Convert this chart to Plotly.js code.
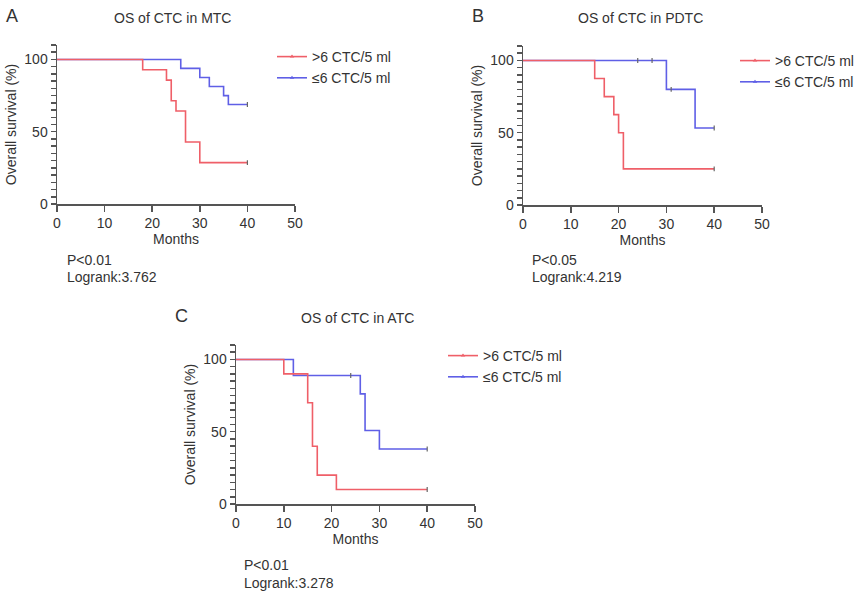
<!DOCTYPE html>
<html>
<head>
<meta charset="utf-8">
<script src="https://cdn.plot.ly/plotly-3.0.1.min.js"></script>
<style>
  html, body { margin: 0; padding: 0; background: #fff; }
  #chart { width: 860px; height: 595px; }
</style>
</head>
<body>
<div id="chart"></div>
<script>
// Kaplan-Meier steps (months, % surviving)
var groupNames = ['>6 CTC/5 ml', '\u22646 CTC/5 ml'];

// A: MTC
var mtcHighT = [0, 18, 23, 24, 25, 27, 30, 40];
var mtcHighS = [100, 92.9, 85.7, 71.4, 64.3, 42.9, 28.6, 28.6];
var mtcLowT = [0, 26, 30, 32, 35, 36, 40];
var mtcLowS = [100, 93.8, 87.5, 81.3, 75, 68.8, 68.8];
var mtcHighCensT = [40], mtcHighCensS = [28.6];
var mtcLowCensT = [40], mtcLowCensS = [68.8];

// B: PDTC
var pdtcHighT = [0, 15, 17, 19, 20, 21, 40];
var pdtcHighS = [100, 87.5, 75, 62.5, 50, 25, 25];
var pdtcLowT = [0, 30, 36, 40];
var pdtcLowS = [100, 80, 53.3, 53.3];
var pdtcHighCensT = [40], pdtcHighCensS = [25];
var pdtcLowCensT = [24, 27, 31, 40], pdtcLowCensS = [100, 100, 80, 53.3];

// C: ATC
var atcHighT = [0, 10, 15, 16, 17, 21, 40];
var atcHighS = [100, 90, 70, 40, 20, 10, 10];
var atcLowT = [0, 12, 26, 27, 30, 40];
var atcLowS = [100, 88.9, 76.2, 50.8, 38.1, 38.1];
var atcHighCensT = [40], atcHighCensS = [10];
var atcLowCensT = [24, 40], atcLowCensS = [88.9, 38.1];

// y axis: labelled ticks and the short ticks in between
var yMajorTicks = [0, 50, 100];
var yMinorTicks = [];
for (var v = 0; v <= 110; v += 5) yMinorTicks.push(v);

var panelLetters = ['A', 'B', 'C'];
var panelTitles = ['OS of CTC in MTC', 'OS of CTC in PDTC', 'OS of CTC in ATC'];
var pValues = ['P<0.01', 'P<0.05', 'P<0.01'];
var logranks = ['Logrank:3.762', 'Logrank:4.219', 'Logrank:3.278'];

var RED = '#ef5f68';
var BLUE = '#5f5fe6';
var AXIS = '#555555';
var TEXT = '#333333';
var FONT = 'Liberation Sans, Arial, sans-serif';

var panels = [
  {hiT: mtcHighT, hiS: mtcHighS, loT: mtcLowT, loS: mtcLowS,
   hcT: mtcHighCensT, hcS: mtcHighCensS, lcT: mtcLowCensT, lcS: mtcLowCensS},
  {hiT: pdtcHighT, hiS: pdtcHighS, loT: pdtcLowT, loS: pdtcLowS,
   hcT: pdtcHighCensT, hcS: pdtcHighCensS, lcT: pdtcLowCensT, lcS: pdtcLowCensS},
  {hiT: atcHighT, hiS: atcHighS, loT: atcLowT, loS: atcLowS,
   hcT: atcHighCensT, hcS: atcHighCensS, lcT: atcLowCensT, lcS: atcLowCensS}
];

// plot areas in pixels: [left, right, top(110%), bottom(0%)]
var boxes = [
  [57, 295, 45, 204],
  [523, 762, 46, 205],
  [236, 475, 345, 504]
];
// legend anchors in pixels (left, top)
var legendPos = [[272, 41], [735, 45], [443, 340]];
// letter, title, stats positions in pixels
var letterPos = [[12, 16], [478, 16], [181, 316]];
var titlePos = [[172, 18], [640, 18], [357, 318]];
var statPos = [[65, 260, 277], [530, 260, 277], [242, 565, 583]];

var W = 860, H = 595;
var data = [];
var layout = {
  width: W, height: H,
  margin: {l: 0, r: 0, t: 0, b: 0},
  paper_bgcolor: '#fff', plot_bgcolor: '#fff',
  font: {family: FONT, size: 14, color: TEXT},
  showlegend: true,
  annotations: []
};

function kmTrace(t, s, color, ax) {
  return {
    x: t, y: s, type: 'scatter', mode: 'lines',
    line: {color: color, width: 1.6, shape: 'hv'},
    xaxis: 'x' + ax, yaxis: 'y' + ax,
    showlegend: false, hoverinfo: 'skip'
  };
}

function censTrace(t, s, ax) {
  return {
    x: t, y: s, type: 'scatter', mode: 'markers',
    marker: {symbol: 'line-ns', size: 3.5, line: {color: '#666', width: 1.2}},
    xaxis: 'x' + ax, yaxis: 'y' + ax,
    showlegend: false, hoverinfo: 'skip'
  };
}

function legendTrace(name, color, ax, leg, rank) {
  return {
    x: [null], y: [null], type: 'scatter', mode: 'lines+markers', name: name,
    line: {color: color, width: 1.6},
    marker: {symbol: 'triangle-up', size: 4, color: color},
    xaxis: 'x' + ax, yaxis: 'y' + ax,
    legend: leg, legendrank: rank
  };
}

function note(text, x, y, anchor, size) {
  return {
    text: text, xref: 'paper', yref: 'paper',
    x: x / W, y: 1 - y / H,
    xanchor: anchor, yanchor: 'middle', showarrow: false,
    font: {size: size, color: TEXT}
  };
}

for (var i = 0; i < 3; i++) {
  var p = panels[i];
  var ax = i === 0 ? '' : String(i + 1);
  var leg = i === 0 ? 'legend' : 'legend' + (i + 1);
  var b = boxes[i];

  // blue first so the red line sits on top where they overlap
  data.push(kmTrace(p.loT, p.loS, BLUE, ax));
  data.push(kmTrace(p.hiT, p.hiS, RED, ax));
  data.push(censTrace(p.lcT, p.lcS, ax));
  data.push(censTrace(p.hcT, p.hcS, ax));
  data.push(legendTrace(groupNames[0], RED, ax, leg, 1));
  data.push(legendTrace(groupNames[1], BLUE, ax, leg, 2));

  layout['xaxis' + ax] = {
    domain: [b[0] / W, b[1] / W],
    anchor: 'y' + ax,
    range: [0, 50], dtick: 10, tick0: 0,
    showline: true, linecolor: AXIS, linewidth: 1.5,
    ticks: 'outside', ticklen: 6, tickwidth: 1.5, tickcolor: AXIS,
    showgrid: false, zeroline: false,
    tickfont: {size: 14, color: TEXT},
    title: {text: 'Months', font: {size: 14, color: TEXT}, standoff: 3}
  };
  // short ticks every 5 on the y axis itself, labels only on 0/50/100
  layout['yaxis' + ax] = {
    domain: [1 - b[3] / H, 1 - b[2] / H],
    anchor: 'x' + ax,
    range: [0, 110],
    tickmode: 'array', tickvals: yMinorTicks,
    ticktext: yMinorTicks.map(function (t) { return yMajorTicks.indexOf(t) >= 0 ? String(t) : ''; }),
    showline: true, linecolor: AXIS, linewidth: 1.5,
    ticks: 'outside', ticklen: 5, tickwidth: 1.5, tickcolor: AXIS,
    showgrid: false, zeroline: false,
    tickfont: {size: 14, color: TEXT},
    title: {text: 'Overall survival (%)', font: {size: 14, color: TEXT}, standoff: 4}
  };

  layout[leg] = {
    x: legendPos[i][0] / W, y: 1 - legendPos[i][1] / H,
    xanchor: 'left', yanchor: 'top',
    bgcolor: 'rgba(0,0,0,0)', borderwidth: 0,
    itemwidth: 30, tracegroupgap: 0,
    font: {size: 14, color: TEXT}
  };

  layout.annotations.push(note(panelLetters[i], letterPos[i][0], letterPos[i][1], 'center', 18));
  layout.annotations.push(note(panelTitles[i], titlePos[i][0], titlePos[i][1], 'center', 14));
  layout.annotations.push(note(pValues[i], statPos[i][0], statPos[i][1], 'left', 14));
  layout.annotations.push(note(logranks[i], statPos[i][0], statPos[i][2], 'left', 14));
}

Plotly.newPlot('chart', data, layout, {staticPlot: true});
</script>
</body>
</html>
